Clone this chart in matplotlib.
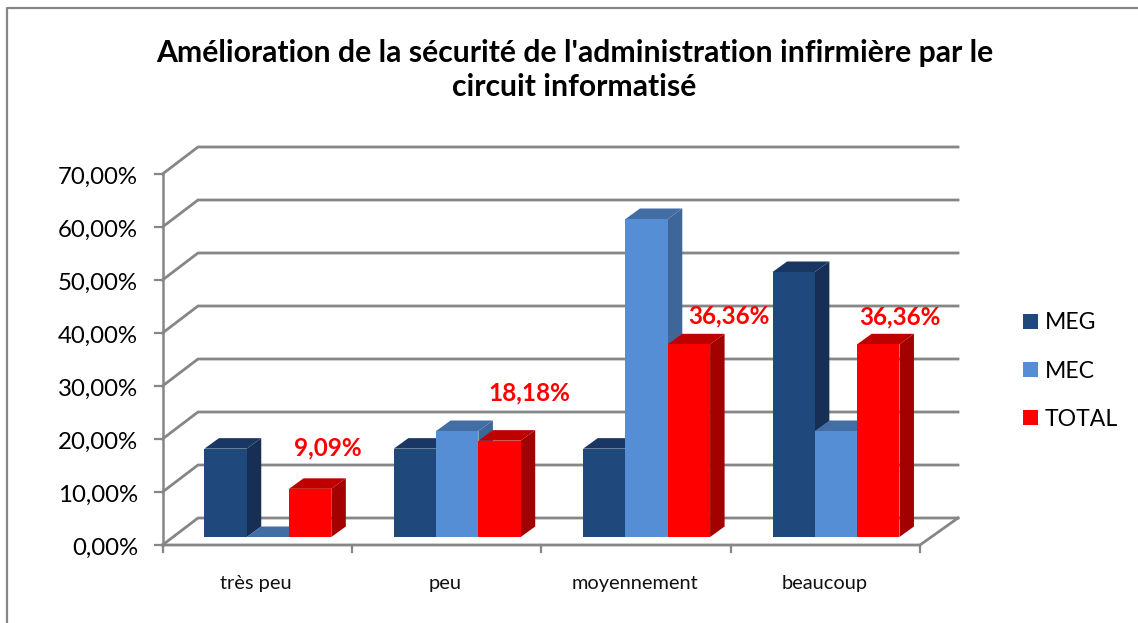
import matplotlib
matplotlib.use("Agg")
import matplotlib.pyplot as plt
from matplotlib.lines import Line2D
from matplotlib.patches import Patch, Polygon

plt.rcParams['font.family'] = ['Lato', 'DejaVu Sans']

categories = ["très peu", "peu", "moyennement", "beaucoup"]
series_names = ["MEG", "MEC", "TOTAL"]
meg = [16.67, 16.67, 16.67, 50.0]
mec = [0.0, 20.0, 60.0, 20.0]
total = [9.09, 18.18, 36.36, 36.36]
total_labels = ["9,09%", "18,18%", "36,36%", "36,36%"]
y_ticks = [0, 10, 20, 30, 40, 50, 60, 70]
y_labels = ["0,00%", "10,00%", "20,00%", "30,00%", "40,00%", "50,00%", "60,00%", "70,00%"]

W, H = 1138, 623
L, R, T, B = 162.5, 920, 174, 545
GRID = '#868686'
FRONT = ['#1F497D', '#558ED5', '#FF0000']
TOP = ['#1A3763', '#426DA5', '#BF0000']
SIDE = ['#172F54', '#3E6699', '#A30000']

fig = plt.figure(figsize=(W / 100, H / 100), dpi=100)
ax = fig.add_axes([L / W, 1 - B / H, (R - L) / W, (B - T) / H])
ax.set_xlim(0, 4)
ax.set_ylim(0, 70)
ax.axis('off')

sx = (R - L) / 4      # px per category
sy = (B - T) / 70     # px per percent


def ox(px):
    return px / sx


def oy(px):
    return px / sy


# Walls and floor
wall_dx, wall_dy = ox(35.5), oy(27)
for t in y_ticks:
    ax.plot([0, wall_dx, 4 + ox(38)], [t, t + wall_dy, t + wall_dy], color=GRID, lw=2.0,
            clip_on=False, zorder=1, solid_joinstyle='miter')
    ax.plot([-ox(8), 0], [t, t], color=GRID, lw=1.6, clip_on=False, zorder=1)
    ax.text(-ox(24.5), t - oy(3.5), y_labels[t // 10], ha='right', va='center', fontsize=17.3, color='black')
ax.plot([0, 0], [0, 70], color=GRID, lw=1.8, clip_on=False, zorder=1)
ax.plot([0, 4, 4 + ox(38)], [0, 0, wall_dy], color=GRID, lw=2.0, clip_on=False, zorder=1)
for i in range(5):
    ax.plot([i, i], [0, -oy(7)], color=GRID, lw=1.6, clip_on=False, zorder=1)
for i, c in enumerate(categories):
    ax.text(i + 0.5 + ox(-1), -oy(38), c, ha='center', va='center', fontsize=14.4, color='#111111')

# 3-D bars
bar_w = ox(42.3)
base_dx, base_dy = ox(10.7), oy(8)
dep_x, dep_y = ox(14.5), oy(10.5)
z = 2
for i in range(4):
    for j, vals in enumerate([meg, mec, total]):
        x0 = i + 0.5 + base_dx + (j - 1.5) * bar_w
        x1 = x0 + bar_w
        y0 = base_dy
        y1 = vals[i] + base_dy
        kw = dict(clip_on=False, zorder=z, lw=0)
        ax.add_patch(Polygon([(x1, y0), (x1 + dep_x, y0 + dep_y), (x1 + dep_x, y1 + dep_y), (x1, y1)],
                             facecolor=SIDE[j], **kw))
        ax.add_patch(Polygon([(x0, y1), (x0 + dep_x, y1 + dep_y), (x1 + dep_x, y1 + dep_y), (x1, y1)],
                             facecolor=TOP[j], **kw))
        ax.add_patch(Polygon([(x0, y0), (x1, y0), (x1, y1), (x0, y1)], facecolor=FRONT[j], **kw))
        z += 1

# Labels on TOTAL
label_shift = [(18, 41), (30, 48), (40, 28), (22, 27)]
for i, lab in enumerate(total_labels):
    xc = i + 0.5 + base_dx + 1.0 * bar_w
    ax.annotate(lab, (xc, total[i] + base_dy), xytext=label_shift[i], textcoords='offset pixels',
                ha='center', va='center', fontsize=17.5, fontweight='bold', color='#FF0000', zorder=50,
                annotation_clip=False)

# Title
fig.text(574.5 / W, 1 - 70 / H, "Amélioration de la sécurité de l'administration infirmière par le\ncircuit informatisé",
         ha='center', va='center', fontsize=21.7, fontweight='bold', color='black', linespacing=1.25)

# Legend
handles = [Patch(facecolor=c, edgecolor='none', label=n) for c, n in zip(FRONT, series_names)]
fig.legend(handles=handles, loc='center left', bbox_to_anchor=(1016 / W, 1 - 371 / H), frameon=False,
           fontsize=16.6, handlelength=0.65, handleheight=0.65, handletextpad=0.3, labelspacing=1.18,
           borderpad=0.3, borderaxespad=0)

# Chart frame
fig.add_artist(Line2D([7 / W, 7 / W, 1], [0, 1 - 8 / H, 1 - 8 / H], transform=fig.transFigure, color=GRID, lw=1.6))

fig.savefig('out.png', dpi=100)
